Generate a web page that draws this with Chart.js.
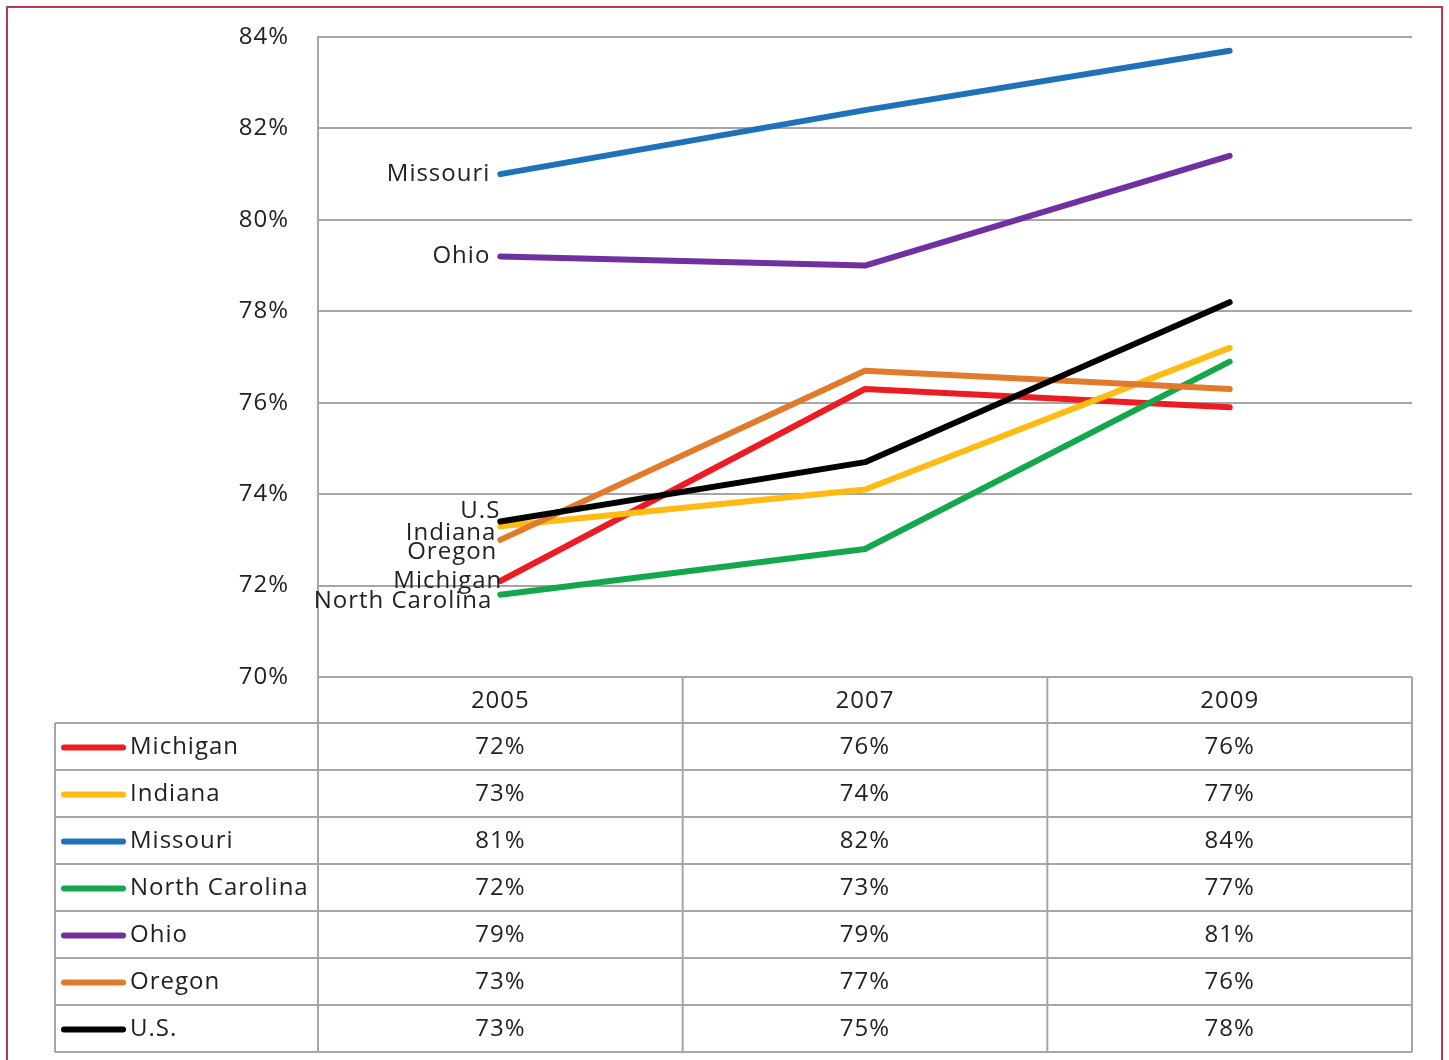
<!DOCTYPE html>
<html>
<head>
<meta charset="utf-8">
<script src="https://cdn.jsdelivr.net/npm/chart.js@4"></script>
<style>
  body { margin: 0; background: #fff; }
  #wrap { width: 1449px; height: 1060px; position: relative; }
</style>
</head>
<body>
<div id="wrap"><canvas id="chart-rates"></canvas></div>
<script>
const years = ["2005", "2007", "2009"];
const seriesNames = ["Michigan", "Indiana", "Missouri", "North Carolina", "Ohio", "Oregon", "U.S."];

const michigan = [72.1, 76.3, 75.9];
const indiana = [73.3, 74.1, 77.2];
const missouri = [81.0, 82.4, 83.7];
const northCarolina = [71.8, 72.8, 76.9];
const ohio = [79.2, 79.0, 81.4];
const oregon = [73.0, 76.7, 76.3];
const us = [73.4, 74.7, 78.2];

const yTicks = [70, 72, 74, 76, 78, 80, 82, 84];

const seriesValues = [michigan, indiana, missouri, northCarolina, ohio, oregon, us];
const seriesColors = ["#ED1C24", "#FDBB13", "#1F72B8", "#12A84B", "#7030A0", "#E17A2B", "#000000"];

// where the names next to the 2005 points sit (dx, dy from the point)
const nudges = {
  "Michigan": [2, 0],
  "Indiana": [-4, 7],
  "Missouri": [-10, 0],
  "North Carolina": [-8, 6],
  "Ohio": [-10, 0],
  "Oregon": [-3, 12],
  "U.S.": [0, -10],
};
const shortName = { "U.S.": "U.S" };

const FONT = "'Open Sans', sans-serif";
const TEXT = "#222222";
const GRID = "#a6a6a6";

const ctx = document.querySelector("#chart-rates").getContext("2d");

const datasets = seriesNames.map((name, i) => ({
  label: name,
  data: seriesValues[i],
  borderColor: seriesColors[i],
  backgroundColor: seriesColors[i],
  borderWidth: 6,
  borderCapStyle: "round",
  borderJoinStyle: "round",
  pointRadius: 0,
  tension: 0,
  order: seriesNames.length - i,
}));

const framePlugin = {
  id: "frame",
  beforeDraw(chart) {
    const c = chart.ctx;
    c.letterSpacing = "1px";
    c.save();
    c.fillStyle = "#fff";
    c.fillRect(0, 0, chart.width, chart.height);
    c.strokeStyle = "#b63a4c";
    c.lineWidth = 2;
    c.strokeRect(7, 7, chart.width - 14, chart.height + 20);
    c.restore();
  },
};

const seriesLabels = {
  id: "seriesLabels",
  afterDatasetsDraw(chart) {
    const c = chart.ctx;
    c.save();
    c.font = "24px " + FONT;
    c.fillStyle = TEXT;
    c.textAlign = "right";
    c.textBaseline = "middle";
    chart.data.datasets.forEach((ds, i) => {
      const pt = chart.getDatasetMeta(i).data[0];
      const n = nudges[ds.label] || [-10, 0];
      c.fillText(shortName[ds.label] || ds.label, pt.x + n[0], pt.y + n[1]);
    });
    c.restore();
  },
};

const dataTable = {
  id: "dataTable",
  afterDraw(chart) {
    const c = chart.ctx;
    const xs = chart.scales.x;
    const area = chart.chartArea;
    const colW = (area.right - area.left) / years.length;
    const headTop = area.bottom;
    const headH = 46;
    const rowH = 47;
    const tableLeft = 55;
    const rowsTop = headTop + headH;
    const bottom = rowsTop + rowH * seriesNames.length;

    c.save();
    c.strokeStyle = GRID;
    c.lineWidth = 2;
    c.beginPath();
    for (let r = 0; r <= seriesNames.length; r++) {
      const y = rowsTop + r * rowH;
      c.moveTo(tableLeft, y);
      c.lineTo(area.right, y);
    }
    c.moveTo(tableLeft, rowsTop);
    c.lineTo(tableLeft, bottom);
    c.moveTo(area.left, headTop);
    c.lineTo(area.left, bottom);
    for (let k = 1; k <= years.length; k++) {
      const x = area.left + k * colW;
      c.moveTo(x, headTop);
      c.lineTo(x, bottom);
    }
    c.stroke();

    c.font = "24px " + FONT;
    c.fillStyle = TEXT;
    c.textBaseline = "middle";
    c.textAlign = "center";
    years.forEach((yr, k) => {
      c.fillText(yr, xs.getPixelForValue(k), headTop + headH / 2 + 1);
    });

    seriesNames.forEach((name, r) => {
      const cy = rowsTop + r * rowH + rowH / 2 + 1;
      c.strokeStyle = seriesColors[r];
      c.lineWidth = 6;
      c.lineCap = "round";
      c.beginPath();
      c.moveTo(64, cy);
      c.lineTo(123, cy);
      c.stroke();
      c.textAlign = "left";
      c.fillText(name, 130, cy);
      c.textAlign = "center";
      seriesValues[r].forEach((v, k) => {
        c.fillText(Math.round(v) + "%", xs.getPixelForValue(k), cy);
      });
    });
    c.restore();
  },
};

new Chart(ctx, {
  type: "line",
  data: { labels: years, datasets: datasets },
  options: {
    responsive: true,
    maintainAspectRatio: false,
    animation: false,
    layout: { padding: { top: 37, right: 37, bottom: 383, left: 0 } },
    interaction: { mode: "index", intersect: false },
    scales: {
      x: {
        display: false,
        offset: true,
      },
      y: {
        min: 70,
        max: 84,
        afterFit(scale) { scale.width = 318; },
        afterBuildTicks(scale) { scale.ticks = yTicks.map(v => ({ value: v })); },
        ticks: {
          padding: 8,
          color: TEXT,
          font: { family: FONT, size: 24 },
          callback: v => v + "%",
        },
        grid: {
          color: GRID,
          lineWidth: 2,
          drawTicks: true,
          tickLength: 21,
          tickColor: "rgba(0,0,0,0)",
        },
        border: { display: true, color: GRID, width: 2 },
      },
    },
    plugins: {
      legend: { display: false },
      tooltip: { enabled: false },
    },
  },
  plugins: [framePlugin, seriesLabels, dataTable],
});
</script>
</body>
</html>
